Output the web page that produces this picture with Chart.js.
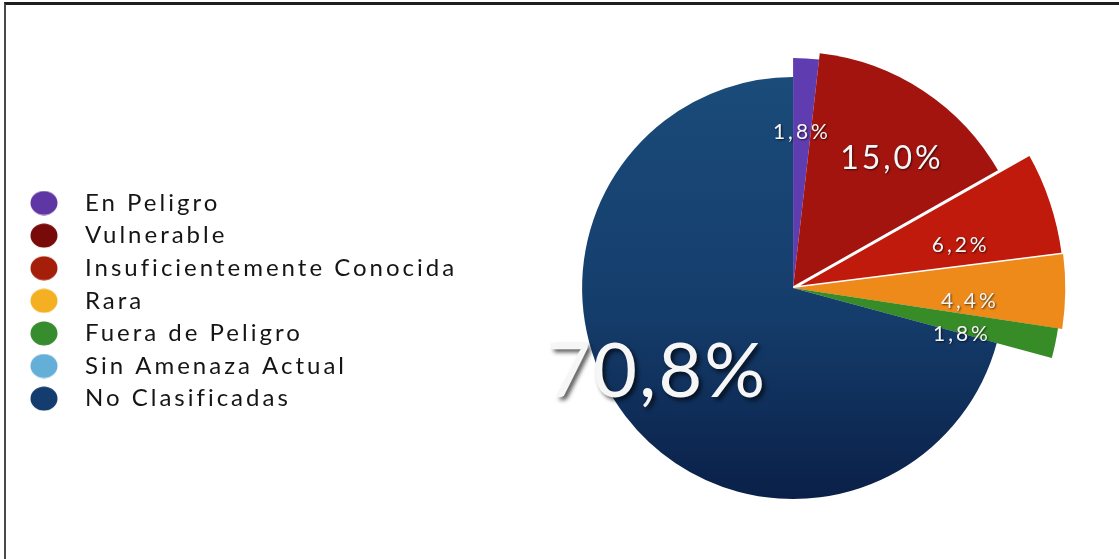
<!DOCTYPE html>
<html>
<head>
<meta charset="utf-8">
<script src="https://cdn.jsdelivr.net/npm/chart.js@4/dist/chart.umd.min.js"></script>
<style>
  html, body { margin: 0; padding: 0; background: #fff; }
  #wrap { position: relative; width: 1119px; height: 559px; overflow: hidden; }
  #frame { position: absolute; left: 4px; top: 2px; right: -10px; bottom: -10px;
           border-top: 3px solid #1e1e1e; border-left: 2px solid #4a4a4a; }
  #chart { position: absolute; left: 0; top: 0; }
</style>
</head>
<body>
<div id="wrap">
  <div id="frame"></div>
  <canvas id="chart" width="1119" height="559"></canvas>
</div>
<script>
// Especies por categoría de amenaza (%)
const categories = [
    'En Peligro',
    'Vulnerable',
    'Insuficientemente Conocida',
    'Rara',
    'Fuera de Peligro',
    'Sin Amenaza Actual',
    'No Clasificadas'
];
const percentages = [1.8, 15.0, 6.2, 4.4, 1.8, 0.0, 70.8];

// Slice and legend colours (last slice uses a gradient)
const sliceColors = ['#5f3caf', '#a3140f', '#c01a0c', '#ee8a1a', '#378c28', '#64afd7', null];
const legendColors = ['#5f37a5', '#780a0a', '#a51e0a', '#f5af23', '#378c2d', '#64afd7', '#143c6e'];

// Outer radius of each slice relative to the base radius
const sliceScale = [1.09, 1.12, 1.29, 1.29, 1.27, 1, 1];

// Label placement: distance from centre (x base radius), extra angle (deg), font size
const labelDist = [0.74, 0.77, 0.82, 0.84, 0.83, 0, 0.76];
const labelTurn = [0, 4, 4, 3.5, 3.5, 0, 5.5];
const labelSize = [21, 32, 21, 21, 21, 0, 76];

const FONT = 'Lato';

function blueFill(context) {
    const chart = context.chart;
    if (!chart.chartArea) return '#163f6e';
    const g = chart.ctx.createLinearGradient(0, 77, 0, 500);
    g.addColorStop(0, '#1a4b79');
    g.addColorStop(0.55, '#153d6c');
    g.addColorStop(1, '#0a2048');
    return g;
}

// small round markers for the legend
function legendDot(color) {
    const c = document.createElement('canvas');
    c.width = 28;
    c.height = 25;
    const x = c.getContext('2d');
    x.fillStyle = color;
    x.beginPath();
    x.ellipse(14, 12.5, 13.5, 12, 0, 0, Math.PI * 2);
    x.fill();
    return c;
}
const legendDots = legendColors.map(legendDot);

// wide tracking for the legend text (set before the legend measures itself)
const trackingPlugin = {
    id: 'tracking',
    beforeLayout(chart) { chart.ctx.letterSpacing = '3px'; },
    beforeDraw(chart) { chart.ctx.letterSpacing = '3px'; }
};

// each slice gets its own outer radius
const sliceRadiusPlugin = {
    id: 'sliceRadius',
    beforeDatasetsDraw(chart) {
        const meta = chart.getDatasetMeta(0);
        const base = meta.controller.outerRadius;
        meta.data.forEach((arc, i) => {
            arc.outerRadius = base * sliceScale[i];
        });
    }
};

// percentage labels on the slices
const sliceLabelPlugin = {
    id: 'sliceLabels',
    afterDatasetsDraw(chart) {
        const ctx = chart.ctx;
        const meta = chart.getDatasetMeta(0);
        const base = meta.controller.outerRadius;
        ctx.save();
        ctx.textAlign = 'center';
        ctx.textBaseline = 'middle';
        meta.data.forEach((arc, i) => {
            const v = percentages[i];
            if (!v) return;
            const big = labelSize[i] > 40;
            const mid = (arc.startAngle + arc.endAngle) / 2 + labelTurn[i] * Math.PI / 180;
            const r = base * labelDist[i];
            const x = arc.x + Math.cos(mid) * r;
            const y = arc.y + Math.sin(mid) * r;
            ctx.font = labelSize[i] + 'px ' + FONT;
            ctx.letterSpacing = big ? '2px' : '3px';
            ctx.shadowColor = 'rgba(0, 0, 0, 0.65)';
            ctx.shadowBlur = big ? 4 : 2;
            ctx.shadowOffsetX = big ? 3 : 1;
            ctx.shadowOffsetY = big ? 3 : 1;
            ctx.fillStyle = '#f6f6f6';
            ctx.fillText(v.toFixed(1).replace('.', ',') + '%', x, y);
        });
        ctx.restore();
    }
};

new Chart(document.getElementById('chart'), {
    type: 'pie',
    data: {
        labels: categories,
        datasets: [{
            data: percentages,
            backgroundColor: (context) => sliceColors[context.dataIndex] || blueFill(context),
            borderColor: '#ffffff',
            borderWidth: [0, 0, 3, 0, 0, 0, 0],
            radius: 211,
            clip: false
        }]
    },
    options: {
        responsive: false,
        animation: false,
        layout: {
            padding: { left: 6.4, right: 0, top: 40, bottom: 23 }
        },
        plugins: {
            tooltip: { enabled: false },
            legend: {
                position: 'left',
                // empty title only pushes the list a little lower than the pie centre
                title: {
                    display: true,
                    text: '',
                    font: { size: 10 },
                    padding: { top: 0, bottom: 13.6 }
                },
                labels: {
                    usePointStyle: true,
                    pointStyleWidth: 58,
                    boxHeight: 20,
                    padding: 8.6,
                    color: '#151515',
                    font: { family: FONT, size: 24 },
                    generateLabels: () => categories.map((text, i) => ({
                        text: text,
                        fillStyle: legendColors[i],
                        strokeStyle: legendColors[i],
                        lineWidth: 0,
                        pointStyle: legendDots[i],
                        fontColor: '#151515',
                        hidden: false,
                        index: i
                    }))
                }
            }
        }
    },
    plugins: [trackingPlugin, sliceRadiusPlugin, sliceLabelPlugin]
});
</script>
</body>
</html>
